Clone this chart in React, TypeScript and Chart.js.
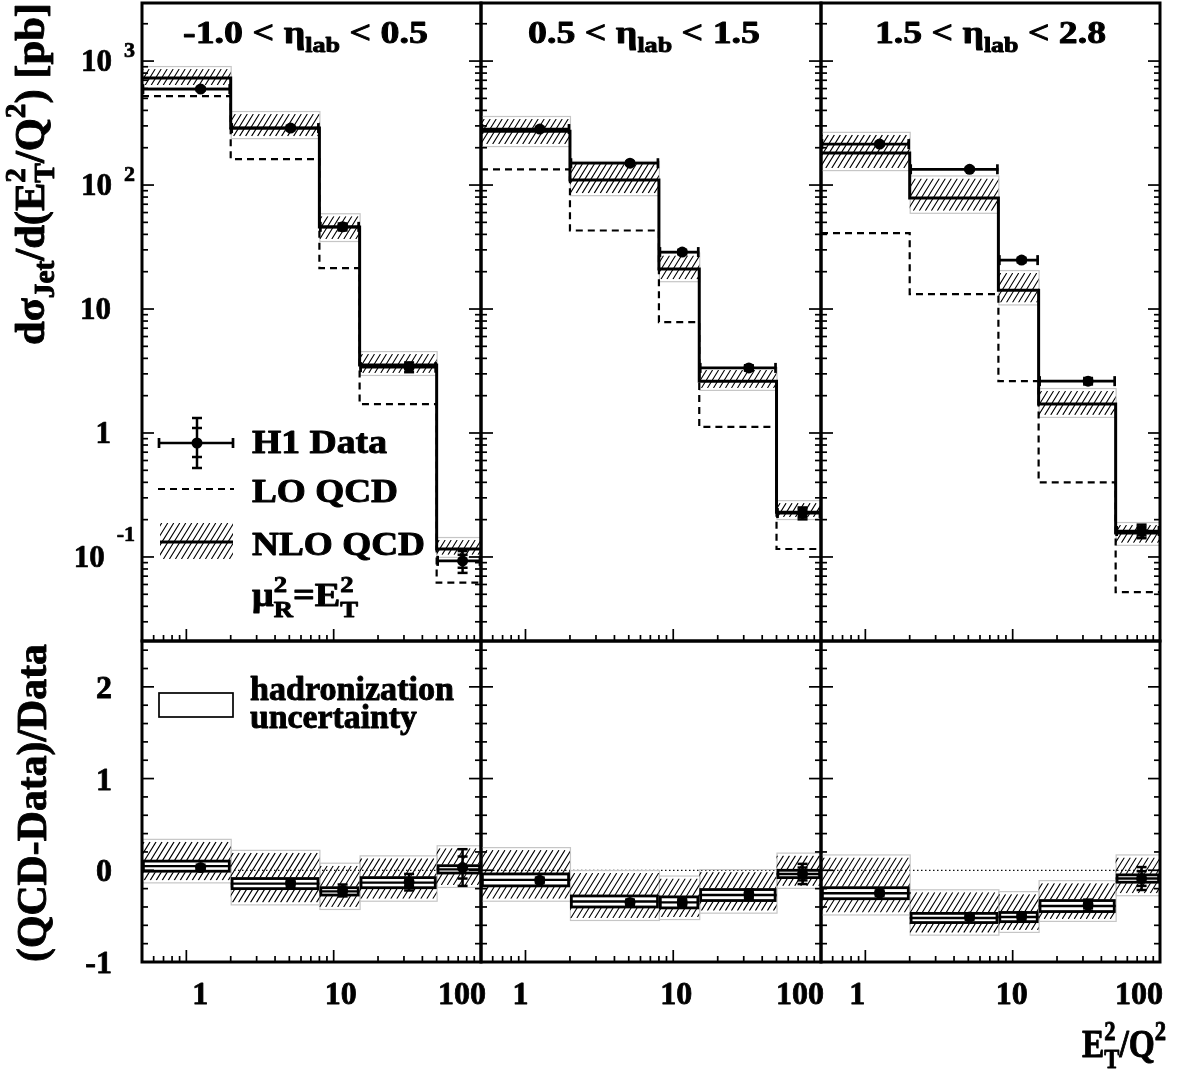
import React, { useEffect, useRef } from 'react';
import { Chart, registerables } from 'chart.js';
Chart.register(...registerables);

const W = 1186;
const H = 1072;
const FONT = '"Liberation Serif", "Times New Roman", serif';

// ---------------- data ----------------
const BIN_EDGES = [0.5, 2, 8, 15, 50, 100];
const BIN_POINTS = [1.25, 5.1, 11.5, 32.5, 75];
const ETA_LOW = ['-1.0', '0.5', '1.5'];
const ETA_HIGH = ['0.5', '1.5', '2.8'];

const DATA_1 = [594, 288, 46, 3.4, 0.093];
const DATA_2 = [283, 150, 28.8, 3.35, 0.226];
const DATA_3 = [214, 134, 24.8, 2.62, 0.162];
const DATA_TOT_1 = [0.03, 0.04, 0.065, 0.09, 0.2];
const DATA_TOT_2 = [0.03, 0.03, 0.04, 0.05, 0.11];
const DATA_TOT_3 = [0.03, 0.03, 0.04, 0.06, 0.125];
const DATA_STAT_1 = [0.01, 0.015, 0.03, 0.04, 0.12];
const DATA_STAT_2 = [0.01, 0.01, 0.02, 0.03, 0.07];
const DATA_STAT_3 = [0.01, 0.01, 0.02, 0.03, 0.08];

const NLO_1 = [729, 288, 45.8, 3.53, 0.116];
const NLO_2 = [272, 110, 21, 2.62, 0.23];
const NLO_3 = [181, 78.5, 14.2, 1.71, 0.156];
const NLO_DOWN_1 = [640, 248, 36.7, 3.05, 0.104];
const NLO_UP_1 = [862, 374, 56, 4.33, 0.137];
const NLO_DOWN_2 = [214, 86, 17.4, 2.31, 0.21];
const NLO_UP_2 = [341, 148, 27, 3.22, 0.272];
const NLO_DOWN_3 = [137, 62, 11.3, 1.4, 0.13];
const NLO_UP_3 = [254, 113, 19.5, 2.18, 0.181];

const LO_1 = [522, 162, 21.4, 1.71, 0.062];
const LO_2 = [134, 43, 7.85, 1.12, 0.116];
const LO_3 = [41, 13.2, 2.62, 0.4, 0.052];

const RATIO_1 = [0.03, -0.14, -0.22, -0.13, 0.03];
const RATIO_2 = [-0.11, -0.35, -0.35, -0.26, -0.04];
const RATIO_3 = [-0.25, -0.51, -0.5, -0.38, -0.09];
const RATIO_NLO_1 = [0.045, -0.145, -0.23, -0.135, 0.01];
const RATIO_NLO_2 = [-0.105, -0.34, -0.35, -0.27, -0.04];
const RATIO_NLO_3 = [-0.25, -0.52, -0.51, -0.39, -0.09];
const HADR_DOWN_1 = [-0.01, -0.2, -0.27, -0.19, -0.03];
const HADR_UP_1 = [0.1, -0.09, -0.19, -0.08, 0.05];
const HADR_DOWN_2 = [-0.17, -0.4, -0.41, -0.33, -0.08];
const HADR_UP_2 = [-0.04, -0.28, -0.29, -0.21, 0.0];
const HADR_DOWN_3 = [-0.31, -0.57, -0.56, -0.45, -0.13];
const HADR_UP_3 = [-0.19, -0.47, -0.46, -0.33, -0.05];
const RSCALE_DOWN_1 = [-0.11, -0.35, -0.4, -0.31, -0.16];
const RSCALE_UP_1 = [0.31, 0.19, 0.05, 0.13, 0.24];
const RSCALE_DOWN_2 = [-0.31, -0.52, -0.51, -0.44, -0.17];
const RSCALE_UP_2 = [0.22, -0.03, -0.09, -0.02, 0.16];
const RSCALE_DOWN_3 = [-0.46, -0.68, -0.65, -0.53, -0.25];
const RSCALE_UP_3 = [0.14, -0.24, -0.26, -0.14, 0.14];

const X_RANGE = [0.5, 100];
const Y_TOP_RANGE = [0.021, 2940];
const Y_BOT_RANGE = [-1, 2.5];
const X_TICKS = [1, 10, 100];
const X_TICK_TEXT = ['1', '10', '100'];
const Y_TOP_TICKS = [1000, 100, 10, 1, 0.1];
const Y_TOP_BASE = ['10', '10', '10', '1', '10'];
const Y_TOP_EXP = ['3', '2', '', '', '-1'];
const Y_BOT_TICKS = [2, 1, 0, -1];
const Y_BOT_TEXT = ['2', '1', '0', '-1'];

const TOP_SETS = [
  { data: DATA_1, tot: DATA_TOT_1, stat: DATA_STAT_1, nlo: NLO_1, down: NLO_DOWN_1, up: NLO_UP_1, lo: LO_1 },
  { data: DATA_2, tot: DATA_TOT_2, stat: DATA_STAT_2, nlo: NLO_2, down: NLO_DOWN_2, up: NLO_UP_2, lo: LO_2 },
  { data: DATA_3, tot: DATA_TOT_3, stat: DATA_STAT_3, nlo: NLO_3, down: NLO_DOWN_3, up: NLO_UP_3, lo: LO_3 },
];
const BOT_SETS = [
  { ratio: RATIO_1, nlo: RATIO_NLO_1, hd: HADR_DOWN_1, hu: HADR_UP_1, down: RSCALE_DOWN_1, up: RSCALE_UP_1, tot: DATA_TOT_1, stat: DATA_STAT_1 },
  { ratio: RATIO_2, nlo: RATIO_NLO_2, hd: HADR_DOWN_2, hu: HADR_UP_2, down: RSCALE_DOWN_2, up: RSCALE_UP_2, tot: DATA_TOT_2, stat: DATA_STAT_2 },
  { ratio: RATIO_3, nlo: RATIO_NLO_3, hd: HADR_DOWN_3, hu: HADR_UP_3, down: RSCALE_DOWN_3, up: RSCALE_UP_3, tot: DATA_TOT_3, stat: DATA_STAT_3 },
];

// ---------------- layout ----------------
const COLS = [[142, 481], [481, 821], [821, 1160]];
const ROWS = [[3, 641], [641, 962]];
const XLAB_DX = [[14, 7, -19], [-5, 3, -21], [-8, -1, -21]];

type Part = { t: string; s: number; dy?: number; back?: boolean };

function drawRich(ctx: CanvasRenderingContext2D, parts: Part[], x: number, y: number,
  align: 'left' | 'center' | 'right', targetW?: number, rot = 0, weight = 0.7) {
  ctx.save();
  let cx = 0;
  let prevStart = 0;
  const L: { p: Part; start: number }[] = [];
  for (const p of parts) {
    ctx.font = `bold ${p.s}px ${FONT}`;
    const w = ctx.measureText(p.t).width;
    const start = p.back ? prevStart : cx;
    L.push({ p, start });
    if (p.back) cx = Math.max(cx, start + w);
    else cx = start + w;
    prevStart = start;
  }
  const total = cx;
  const sx = targetW ? targetW / total : 1;
  ctx.translate(x, y);
  if (rot) ctx.rotate(rot);
  ctx.scale(sx, 1);
  const ox = align === 'left' ? 0 : align === 'center' ? -total / 2 : -total;
  ctx.textAlign = 'left';
  ctx.textBaseline = 'alphabetic';
  ctx.fillStyle = '#000';
  ctx.strokeStyle = '#000';
  ctx.lineJoin = 'round';
  ctx.lineWidth = weight;
  for (const { p, start } of L) {
    ctx.font = `bold ${p.s}px ${FONT}`;
    ctx.fillText(p.t, ox + start, p.dy || 0);
    if (weight > 0) ctx.strokeText(p.t, ox + start, p.dy || 0);
  }
  ctx.restore();
}

function textW(ctx: CanvasRenderingContext2D, t: string, s: number) {
  ctx.font = `bold ${s}px ${FONT}`;
  return ctx.measureText(t).width;
}

function hatch(ctx: CanvasRenderingContext2D, L: number, T: number, R: number, B: number) {
  if (B - T < 0.5) return;
  const sp = 6;
  const k = 0.62;
  ctx.save();
  ctx.beginPath();
  ctx.rect(L, T, R - L, B - T);
  ctx.clip();
  ctx.beginPath();
  const cMin = L + k * T;
  const cMax = R + k * B;
  for (let c = Math.floor(cMin / sp) * sp; c <= cMax; c += sp) {
    ctx.moveTo(c - k * B, B);
    ctx.lineTo(c - k * T, T);
  }
  ctx.strokeStyle = '#000';
  ctx.lineWidth = 1.1;
  ctx.stroke();
  ctx.restore();
}

function line(ctx: CanvasRenderingContext2D, x0: number, y0: number, x1: number, y1: number) {
  ctx.beginPath();
  ctx.moveTo(x0, y0);
  ctx.lineTo(x1, y1);
  ctx.stroke();
}

function vErr(ctx: CanvasRenderingContext2D, px: number, yTot0: number, yTot1: number, yS0: number, yS1: number) {
  ctx.lineWidth = 2.5;
  line(ctx, px, yTot0, px, yTot1);
  for (const yy of [yTot0, yTot1, yS0, yS1]) line(ctx, px - 5, yy, px + 5, yy);
}

function panelPlugin(col: number, row: number) {
  return {
    id: 'h1panel',
    beforeDatasetsDraw(chart: any) {
      const { ctx, chartArea: a } = chart;
      const xs = chart.scales.x;
      const ys = chart.scales.y;
      ctx.save();
      ctx.beginPath();
      ctx.rect(a.left, a.top, a.right - a.left, a.bottom - a.top);
      ctx.clip();
      const s: any = row === 0 ? TOP_SETS[col] : BOT_SETS[col];
      if (row === 1) {
        const y0 = ys.getPixelForValue(0);
        ctx.strokeStyle = '#111';
        ctx.lineWidth = 1.2;
        ctx.setLineDash([1.5, 2.5]);
        line(ctx, a.left, y0, a.right, y0);
        ctx.setLineDash([]);
      }
      for (let i = 0; i < 5; i++) {
        const L = xs.getPixelForValue(BIN_EDGES[i]);
        const R = xs.getPixelForValue(BIN_EDGES[i + 1]);
        const T = ys.getPixelForValue(s.up[i]);
        const B = ys.getPixelForValue(s.down[i]);
        ctx.strokeStyle = '#c6c6c6';
        ctx.lineWidth = 1.2;
        ctx.strokeRect(L + 0.5, T - 2.5, R - L, B - T + 5);
        hatch(ctx, L, T, R, B);
      }
      if (row === 1) {
        for (let i = 0; i < 5; i++) {
          const L = xs.getPixelForValue(BIN_EDGES[i]);
          const R = xs.getPixelForValue(BIN_EDGES[i + 1]);
          const T = ys.getPixelForValue(s.hu[i]);
          const B = ys.getPixelForValue(s.hd[i]);
          const M = ys.getPixelForValue(s.nlo[i]);
          ctx.fillStyle = '#fff';
          ctx.fillRect(L, T - 1, R - L, B - T + 2);
          ctx.strokeStyle = '#000';
          ctx.lineWidth = 2.8;
          ctx.strokeRect(L + 1.4, T, R - L - 2.8, B - T);
          ctx.lineWidth = 2.4;
          line(ctx, L, M, R, M);
        }
      }
      ctx.restore();
    },
    afterDatasetsDraw(chart: any) {
      const { ctx } = chart;
      const xs = chart.scales.x;
      const ys = chart.scales.y;
      ctx.save();
      ctx.strokeStyle = '#000';
      if (row === 0) {
        const s = TOP_SETS[col];
        for (let i = 0; i < 5; i++) {
          const v = s.data[i];
          const px = xs.getPixelForValue(BIN_POINTS[i]);
          const py = ys.getPixelForValue(v);
          const L = xs.getPixelForValue(BIN_EDGES[i]);
          const R = xs.getPixelForValue(BIN_EDGES[i + 1]);
          ctx.lineWidth = 2.7;
          line(ctx, L, py, R, py);
          line(ctx, L + 1, py - 5, L + 1, py + 5);
          line(ctx, R - 1, py - 5, R - 1, py + 5);
          vErr(ctx, px,
            ys.getPixelForValue(v * (1 + s.tot[i])), ys.getPixelForValue(v * (1 - s.tot[i])),
            ys.getPixelForValue(v * (1 + s.stat[i])), ys.getPixelForValue(v * (1 - s.stat[i])));
        }
      } else {
        const s = BOT_SETS[col];
        for (let i = 0; i < 5; i++) {
          const v = s.ratio[i];
          const px = xs.getPixelForValue(BIN_POINTS[i]);
          vErr(ctx, px,
            ys.getPixelForValue(v + s.tot[i]), ys.getPixelForValue(v - s.tot[i]),
            ys.getPixelForValue(v + s.stat[i]), ys.getPixelForValue(v - s.stat[i]));
        }
      }
      ctx.restore();
    },
    afterDraw(chart: any) {
      const { ctx, chartArea: a } = chart;
      const xs = chart.scales.x;
      const ys = chart.scales.y;
      ctx.save();
      ctx.strokeStyle = '#000';
      ctx.fillStyle = '#000';
      // ticks
      ctx.lineWidth = 1.7;
      for (let d = -1; d <= 2; d++) {
        for (let m = 1; m <= 9; m++) {
          const v = m * Math.pow(10, d);
          if (v <= X_RANGE[0] * 1.0001 || v >= X_RANGE[1] * 0.9999) continue;
          const px = xs.getPixelForValue(v);
          const len = m === 1 ? 12 : 6;
          line(ctx, px, a.bottom, px, a.bottom - len);
        }
      }
      if (row === 0) {
        for (let d = -2; d <= 3; d++) {
          for (let m = 1; m <= 9; m++) {
            const v = m * Math.pow(10, d);
            if (v <= Y_TOP_RANGE[0] || v >= Y_TOP_RANGE[1]) continue;
            const py = ys.getPixelForValue(v);
            const len = m === 1 ? 12 : 6;
            line(ctx, a.left, py, a.left + len, py);
            line(ctx, a.right, py, a.right - len, py);
          }
        }
      } else {
        for (let k = -4; k <= 12; k++) {
          const v = k * 0.2;
          const py = ys.getPixelForValue(v);
          const len = k % 5 === 0 ? 12 : 6;
          line(ctx, a.left, py, a.left + len, py);
          line(ctx, a.right, py, a.right - len, py);
        }
      }
      // frame
      ctx.lineWidth = 3;
      ctx.strokeRect(a.left, a.top, a.right - a.left, a.bottom - a.top);

      // y tick labels
      if (col === 0 && row === 0) {
        Y_TOP_TICKS.forEach((v, i) => {
          const py = ys.getPixelForValue(v);
          const base = Y_TOP_BASE[i];
          const exp = Y_TOP_EXP[i];
          if (exp) {
            const ew = textW(ctx, exp, 22);
            const br = 135 - ew - 12;
            drawRich(ctx, [{ t: base, s: 31 }], br, py + 10, 'right');
            const edy = exp === '-1' ? -16 : -4;
            drawRich(ctx, [{ t: exp, s: 22 }], 135, py + edy, 'right');
          } else {
            drawRich(ctx, [{ t: base, s: 31 }], 111, py + 10, 'right');
          }
        });
        // y title
        drawRich(ctx, [
          { t: 'dσ', s: 42 }, { t: 'Jet', s: 29, dy: 10 }, { t: '/d(E', s: 42 },
          { t: 'T', s: 29, dy: 10 }, { t: '2', s: 29, dy: -19, back: true },
          { t: '/Q', s: 42 }, { t: '2', s: 29, dy: -19 }, { t: ') [pb]', s: 42 },
        ], 44, 174, 'center', 342, -Math.PI / 2, 0.9);
      }
      if (row === 0) {
        const cxm = (a.left + a.right) / 2 + [-6, -7, 0][col];
        const tw = [245, 232, 231][col];
        drawRich(ctx, [
          { t: `${ETA_LOW[col]} < `, s: 32 }, { t: 'η', s: 32 }, { t: 'lab', s: 22, dy: 9 },
          { t: ` < ${ETA_HIGH[col]}`, s: 32 },
        ], cxm, 43, 'center', tw, 0, 0.9);
      }
      if (col === 0 && row === 0) {
        // H1 data symbol
        ctx.strokeStyle = '#000';
        ctx.lineWidth = 2.7;
        line(ctx, 158, 443, 234, 443);
        line(ctx, 159, 438, 159, 448);
        line(ctx, 233, 438, 233, 448);
        ctx.lineWidth = 2.5;
        line(ctx, 197, 417, 197, 469);
        for (const yy of [418, 428, 457, 468]) line(ctx, 192, yy, 202, yy);
        ctx.beginPath();
        ctx.arc(197, 443, 5.5, 0, Math.PI * 2);
        ctx.fill();
        // LO symbol
        ctx.lineWidth = 2.2;
        ctx.setLineDash([7, 5]);
        line(ctx, 158, 489, 234, 489);
        ctx.setLineDash([]);
        // NLO symbol
        hatch(ctx, 160, 523, 233, 559);
        ctx.lineWidth = 3;
        line(ctx, 160, 542, 233, 542);
        drawRich(ctx, [{ t: 'H1 Data', s: 33 }], 252, 453, 'left', 135, 0, 0.9);
        drawRich(ctx, [{ t: 'LO QCD', s: 33 }], 252, 502, 'left', 146, 0, 0.9);
        drawRich(ctx, [{ t: 'NLO QCD', s: 33 }], 252, 555, 'left', 173, 0, 0.9);
        drawRich(ctx, [
          { t: 'μ', s: 33 }, { t: 'R', s: 23, dy: 11 }, { t: '2', s: 23, dy: -14, back: true },
          { t: '=E', s: 33 }, { t: 'T', s: 23, dy: 11 }, { t: '2', s: 23, dy: -14, back: true },
        ], 252, 606, 'left', 106, 0, 0.9);
      }
      if (row === 1) {
        X_TICKS.forEach((v, i) => {
          const px = xs.getPixelForValue(v) + XLAB_DX[col][i];
          drawRich(ctx, [{ t: X_TICK_TEXT[i], s: 32 }], px, 1004, 'center', undefined, 0, 0.8);
        });
      }
      if (col === 0 && row === 1) {
        Y_BOT_TICKS.forEach((v, i) => {
          const py = ys.getPixelForValue(v);
          drawRich(ctx, [{ t: Y_BOT_TEXT[i], s: 32 }], 112, Math.min(py, 962) + 11, 'right', undefined, 0, 0.8);
        });
        drawRich(ctx, [{ t: '(QCD-Data)/Data', s: 43 }], 46, 803, 'center', 318, -Math.PI / 2, 0.9);
        // hadronization legend
        ctx.fillStyle = '#fff';
        ctx.fillRect(159, 693, 74, 24);
        ctx.strokeStyle = '#000';
        ctx.lineWidth = 1.7;
        ctx.strokeRect(159, 693, 74, 24);
        drawRich(ctx, [{ t: 'hadronization', s: 33 }], 250, 700, 'left', 204, 0, 0.9);
        drawRich(ctx, [{ t: 'uncertainty', s: 33 }], 250, 728, 'left', 167, 0, 0.9);
      }
      if (col === 2 && row === 1) {
        drawRich(ctx, [
          { t: 'E', s: 40 }, { t: 'T', s: 27, dy: 11 }, { t: '2', s: 27, dy: -17, back: true },
          { t: '/Q', s: 40 }, { t: '2', s: 27, dy: -17 },
        ], 1166, 1057, 'right', 84, 0, 0.9);
      }
      ctx.restore();
    },
  };
}

function stepPoints(vals: number[]) {
  return BIN_EDGES.map((e, i) => ({ x: e, y: vals[Math.min(i, vals.length - 1)] }));
}

function buildConfig(col: number, row: number): any {
  const [x0, x1] = COLS[col];
  const [y0, y1] = ROWS[row];
  const datasets: any[] = [];
  if (row === 0) {
    const s = TOP_SETS[col];
    datasets.push({
      label: 'H1 Data', data: BIN_POINTS.map((x, i) => ({ x, y: s.data[i] })),
      showLine: false, pointRadius: 5.5, pointBackgroundColor: '#000', pointBorderColor: '#000',
      pointBorderWidth: 0, order: 1,
    });
    datasets.push({
      label: 'NLO QCD', data: stepPoints(s.nlo), stepped: 'before', borderColor: '#000',
      borderWidth: 3, pointRadius: 0, fill: false, order: 2,
    });
    datasets.push({
      label: 'LO QCD', data: stepPoints(s.lo), stepped: 'before', borderColor: '#000',
      borderWidth: 2.2, borderDash: [7, 5], pointRadius: 0, fill: false, order: 3,
    });
  } else {
    const s = BOT_SETS[col];
    datasets.push({
      label: '(QCD-Data)/Data', data: BIN_POINTS.map((x, i) => ({ x, y: s.ratio[i] })),
      showLine: false, pointRadius: 5.5, pointBackgroundColor: '#000', pointBorderColor: '#000',
      pointBorderWidth: 0, order: 1,
    });
  }
  return {
    type: 'line',
    data: { datasets },
    options: {
      animation: false,
      responsive: false,
      devicePixelRatio: 1,
      events: [],
      layout: { autoPadding: false, padding: { left: x0, right: W - x1, top: y0, bottom: H - y1 } },
      scales: {
        x: { type: 'logarithmic', min: X_RANGE[0], max: X_RANGE[1], display: false },
        y: row === 0
          ? { type: 'logarithmic', min: Y_TOP_RANGE[0], max: Y_TOP_RANGE[1], display: false }
          : { type: 'linear', min: Y_BOT_RANGE[0], max: Y_BOT_RANGE[1], display: false },
      },
      plugins: { legend: { display: false }, tooltip: { enabled: false } },
    },
    plugins: [panelPlugin(col, row)],
  };
}

const PANELS: [number, number][] = [[0, 0], [1, 0], [2, 0], [0, 1], [1, 1], [2, 1]];

export default function App() {
  const refs = useRef<(HTMLCanvasElement | null)[]>([]);
  useEffect(() => {
    const charts: Chart[] = [];
    PANELS.forEach(([c, r], i) => {
      const cv = refs.current[i];
      if (cv) charts.push(new Chart(cv, buildConfig(c, r)));
    });
    return () => charts.forEach((ch) => ch.destroy());
  }, []);
  return (
    <div style={{ position: 'absolute', left: 0, top: 0, width: W, height: H, background: '#fff', overflow: 'hidden' }}>
      {PANELS.map((_, i) => (
        <canvas
          key={i}
          ref={(el) => { refs.current[i] = el; }}
          width={W}
          height={H}
          style={{ position: 'absolute', left: 0, top: 0, width: W, height: H }}
        />
      ))}
    </div>
  );
}
